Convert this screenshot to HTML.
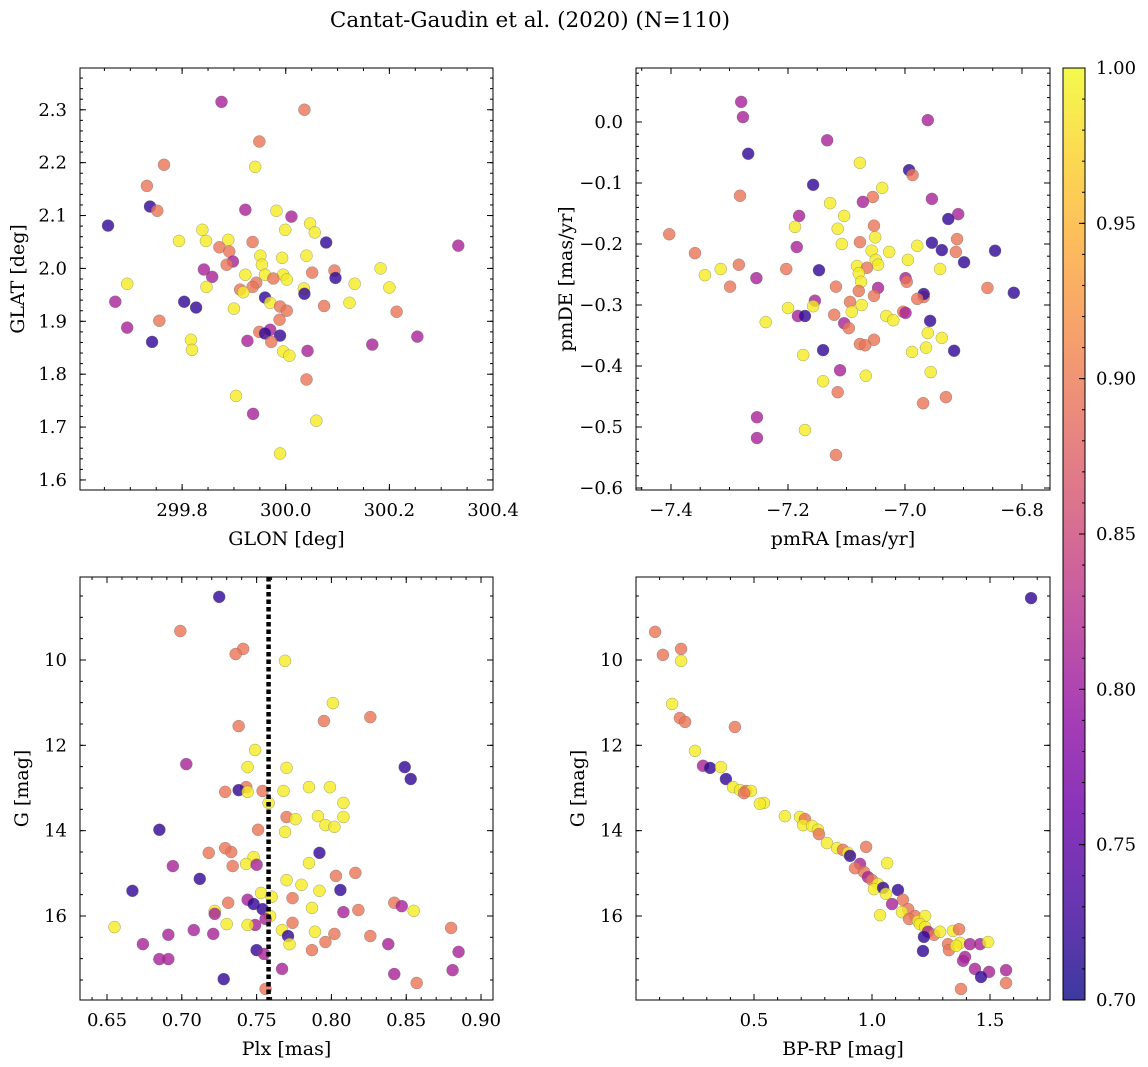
<!DOCTYPE html>
<html><head><meta charset="utf-8">
<style>
html,body{margin:0;padding:0;background:#fff;}
svg{display:block;font-family:"DejaVu Serif","Liberation Serif",serif;}
</style></head>
<body>
<svg id="fig" width="1148" height="1067" viewBox="0 0 1148 1067" xmlns="http://www.w3.org/2000/svg">
<defs>
<linearGradient id="plasma" x1="0" y1="1" x2="0" y2="0">
<stop offset="0" stop-color="#0d0887"/><stop offset="0.1" stop-color="#41049d"/><stop offset="0.2" stop-color="#6a00a8"/><stop offset="0.3" stop-color="#8f0da4"/><stop offset="0.4" stop-color="#b12a90"/><stop offset="0.5" stop-color="#cc4778"/><stop offset="0.6" stop-color="#e16462"/><stop offset="0.7" stop-color="#f2844b"/><stop offset="0.8" stop-color="#fca636"/><stop offset="0.9" stop-color="#fcce25"/><stop offset="1" stop-color="#f0f921"/>
</linearGradient>
</defs>
<text x="530" y="27" font-size="21.5" text-anchor="middle">Cantat-Gaudin et al. (2020) (N=110)</text>
</svg>
<script>
// ---- Panel 1 data: GLON / GLAT
const p1glon=[299.876,300.036,299.949,299.765,299.941,299.732,299.738,299.752,299.922,299.982,300.011,299.657,300.047,299.839,299.999,300.056,299.794,299.846,299.889,299.936,300.078,300.333,299.872,299.891,299.951,300.040,299.993,299.898,299.886,299.954,299.842,300.183,300.094,300.051,299.922,299.960,299.995,299.858,299.976,299.943,300.096,300.002,299.694,300.133,299.936,299.847,300.200,299.912,299.918,300.035,300.036,299.960,299.970,299.671,299.804,300.074,300.123,299.827,299.900,299.989,300.002,300.214,299.988,299.756,299.694,299.970,299.949,299.960,299.989,300.254,299.972,299.926,299.742,299.817,299.819,300.167,299.995,300.042,300.007,300.040,299.904,299.937,300.059,299.989];
const p1glat=[2.315,2.300,2.240,2.196,2.192,2.156,2.117,2.109,2.111,2.109,2.098,2.081,2.085,2.073,2.073,2.068,2.052,2.052,2.054,2.050,2.049,2.043,2.040,2.032,2.024,2.024,2.020,2.013,2.007,2.007,1.998,2.000,1.996,1.992,1.988,1.988,1.988,1.984,1.981,1.973,1.982,1.979,1.971,1.971,1.965,1.965,1.964,1.960,1.955,1.962,1.952,1.945,1.935,1.937,1.937,1.929,1.935,1.926,1.924,1.928,1.920,1.918,1.903,1.901,1.888,1.884,1.880,1.877,1.873,1.871,1.861,1.863,1.861,1.865,1.846,1.856,1.843,1.844,1.835,1.790,1.759,1.725,1.712,1.650];
const p1prob=[.81,.895,.895,.895,.99,.895,.72,.895,.81,.99,.81,.72,.99,.99,.99,.99,.99,.99,.99,.895,.72,.81,.895,.895,.99,.99,.99,.81,.895,.99,.81,.99,.895,.895,.99,.99,.99,.81,.895,.895,.72,.99,.99,.99,.895,.99,.99,.895,.99,.99,.72,.72,.99,.81,.72,.895,.99,.72,.99,.895,.895,.895,.895,.895,.81,.81,.895,.72,.72,.81,.895,.81,.72,.99,.99,.81,.99,.81,.99,.895,.99,.81,.99,.99];
// ---- Panel 2 data: pmRA / pmDE
const p2pmra=[-7.280,-7.277,-6.961,-7.268,-7.133,-7.077,-6.993,-6.987,-7.157,-7.039,-7.282,-7.055,-6.954,-7.072,-7.128,-6.909,-7.104,-7.181,-6.926,-7.188,-7.115,-7.053,-7.403,-7.051,-6.911,-7.077,-7.108,-7.185,-6.979,-6.954,-6.937,-6.846,-7.057,-7.027,-6.913,-7.359,-7.050,-6.995,-6.899,-7.284,-7.082,-7.046,-7.065,-7.147,-7.203,-7.315,-6.940,-7.079,-7.342,-7.254,-6.999,-6.997,-7.075,-7.118,-7.299,-6.859,-7.046,-7.079,-6.814,-6.968,-7.053,-6.968,-6.979,-7.094,-7.154,-7.074,-7.157,-7.200,-7.091,-7.003,-7.032,-6.999,-7.121,-7.183,-7.171,-7.020,-7.238,-6.957,-7.104,-7.096,-6.961,-7.053,-6.937,-7.077,-7.068,-7.140,-7.174,-6.964,-6.988,-6.916,-7.111,-6.956,-7.067,-7.140,-7.115,-6.930,-6.969,-7.253,-7.171,-7.253,-7.118];
const p2pmde=[0.033,0.008,0.003,-0.052,-0.030,-0.067,-0.079,-0.087,-0.103,-0.108,-0.121,-0.123,-0.126,-0.131,-0.133,-0.151,-0.154,-0.154,-0.159,-0.172,-0.175,-0.170,-0.184,-0.189,-0.192,-0.197,-0.200,-0.205,-0.203,-0.198,-0.210,-0.211,-0.211,-0.213,-0.213,-0.215,-0.226,-0.226,-0.230,-0.234,-0.236,-0.234,-0.239,-0.243,-0.241,-0.241,-0.241,-0.248,-0.251,-0.256,-0.256,-0.262,-0.262,-0.270,-0.270,-0.272,-0.272,-0.277,-0.280,-0.287,-0.285,-0.282,-0.290,-0.295,-0.293,-0.300,-0.302,-0.305,-0.311,-0.311,-0.318,-0.313,-0.316,-0.318,-0.318,-0.325,-0.328,-0.326,-0.330,-0.338,-0.346,-0.357,-0.354,-0.364,-0.366,-0.374,-0.382,-0.370,-0.377,-0.375,-0.407,-0.410,-0.416,-0.425,-0.443,-0.451,-0.461,-0.484,-0.505,-0.518,-0.546];
const p2prob=[.81,.81,.81,.72,.81,.99,.72,.895,.72,.99,.895,.895,.81,.81,.99,.81,.99,.81,.72,.99,.99,.895,.895,.99,.895,.895,.99,.81,.99,.72,.72,.72,.99,.99,.895,.895,.99,.99,.72,.895,.99,.99,.895,.72,.895,.99,.99,.99,.99,.81,.81,.895,.99,.895,.895,.895,.81,.895,.72,.895,.895,.72,.895,.895,.81,.99,.99,.99,.99,.895,.99,.81,.895,.81,.72,.99,.99,.72,.81,.895,.99,.895,.99,.895,.895,.72,.99,.99,.99,.72,.81,.99,.99,.99,.895,.895,.895,.81,.99,.81,.895];
// ---- Panel 3 data: Plx / G
const p3plx=[0.725,0.699,0.741,0.736,0.769,0.801,0.795,0.826,0.738,0.749,0.703,0.744,0.770,0.849,0.853,0.785,0.799,0.743,0.738,0.744,0.729,0.754,0.768,0.758,0.808,0.770,0.791,0.776,0.808,0.796,0.802,0.685,0.751,0.769,0.792,0.733,0.718,0.729,0.748,0.785,0.694,0.743,0.750,0.734,0.816,0.803,0.712,0.770,0.780,0.667,0.806,0.792,0.753,0.760,0.774,0.744,0.748,0.731,0.842,0.847,0.787,0.754,0.818,0.855,0.722,0.808,0.722,0.759,0.774,0.730,0.749,0.744,0.756,0.655,0.880,0.767,0.721,0.708,0.789,0.802,0.826,0.691,0.771,0.796,0.674,0.772,0.838,0.750,0.787,0.755,0.885,0.691,0.685,0.767,0.881,0.842,0.728,0.857,0.756];
const p3g=[8.52,9.32,9.74,9.86,10.02,11.01,11.43,11.34,11.55,12.11,12.44,12.51,12.53,12.51,12.79,12.98,12.98,12.98,13.05,13.09,13.09,13.07,13.07,13.35,13.35,13.68,13.66,13.73,13.68,13.87,13.91,13.98,13.98,14.03,14.52,14.50,14.52,14.41,14.62,14.76,14.83,14.78,14.80,14.83,14.99,15.06,15.13,15.16,15.27,15.41,15.39,15.41,15.46,15.55,15.58,15.62,15.72,15.69,15.69,15.77,15.81,15.84,15.86,15.88,15.88,15.91,15.95,16.00,16.16,16.19,16.21,16.21,16.07,16.26,16.28,16.33,16.42,16.33,16.37,16.42,16.47,16.44,16.47,16.61,16.66,16.66,16.66,16.80,16.80,16.89,16.84,17.01,17.01,17.24,17.27,17.36,17.48,17.57,17.71];
const p3prob=[.72,.895,.895,.895,.99,.99,.895,.895,.895,.99,.81,.99,.99,.72,.72,.99,.99,.895,.72,.99,.895,.895,.99,.99,.99,.895,.99,.99,.99,.99,.99,.72,.895,.99,.72,.895,.895,.895,.99,.99,.81,.99,.81,.895,.895,.895,.72,.99,.99,.72,.72,.99,.99,.99,.895,.81,.72,.895,.895,.81,.99,.72,.895,.99,.99,.81,.81,.99,.895,.99,.81,.99,.81,.99,.895,.99,.81,.81,.99,.895,.895,.81,.72,.895,.81,.99,.81,.72,.895,.81,.81,.81,.81,.81,.81,.81,.72,.895,.895];
const plxMedian=0.758;
// ---- Panel 4 data: BP-RP / G
const p4bprp=[1.674,0.081,0.114,0.191,0.191,0.153,0.186,0.208,0.419,0.250,0.284,0.314,0.360,0.381,0.411,0.441,0.466,0.487,0.458,0.542,0.525,0.631,0.695,0.716,0.708,0.746,0.771,0.775,0.809,0.852,0.877,0.898,0.907,0.975,0.949,0.928,1.064,0.966,0.983,1.000,1.025,1.008,1.047,1.110,1.059,1.131,1.085,1.153,1.127,1.034,1.182,1.157,1.195,1.225,1.203,1.225,1.237,1.263,1.220,1.288,1.343,1.369,1.322,1.373,1.415,1.458,1.492,1.326,1.356,1.216,1.394,1.386,1.436,1.496,1.568,1.462,1.568,1.377];
const p4g=[8.55,9.34,9.88,9.74,10.02,11.03,11.36,11.45,11.57,12.13,12.48,12.53,12.51,12.79,12.98,13.05,13.07,13.07,13.12,13.35,13.37,13.66,13.68,13.73,13.87,13.89,13.98,14.08,14.29,14.41,14.45,14.52,14.59,14.38,14.78,14.88,14.76,14.97,15.09,15.16,15.25,15.37,15.34,15.39,15.48,15.62,15.72,15.84,15.91,15.98,16.00,16.07,16.12,16.00,16.19,16.26,16.37,16.44,16.49,16.37,16.35,16.31,16.66,16.63,16.66,16.66,16.61,16.80,16.70,16.82,16.96,17.05,17.24,17.31,17.27,17.43,17.57,17.71];
const p4prob=[.72,.895,.895,.895,.99,.99,.895,.895,.895,.99,.81,.72,.99,.72,.99,.99,.895,.99,.895,.99,.99,.99,.99,.895,.99,.99,.99,.895,.99,.99,.895,.99,.72,.895,.81,.895,.99,.895,.81,.895,.99,.99,.72,.72,.99,.895,.81,.895,.99,.99,.895,.895,.99,.99,.99,.99,.81,.895,.72,.99,.99,.895,.895,.99,.81,.81,.99,.895,.99,.72,.81,.81,.81,.81,.81,.72,.895,.895];
// ---- Tick labels
const p1xticks=[299.8,300.0,300.2,300.4];
const p1yticks=[1.6,1.7,1.8,1.9,2.0,2.1,2.2,2.3];
const p2xticks=[-7.4,-7.2,-7.0,-6.8];
const p2yticks=[0.0,-0.1,-0.2,-0.3,-0.4,-0.5,-0.6];
const p3xticks=[0.65,0.70,0.75,0.80,0.85,0.90];
const gticks=[10,12,14,16];
const p4xticks=[0.5,1.0,1.5];
const cbticks=[0.70,0.75,0.80,0.85,0.90,0.95,1.00];

const NS='http://www.w3.org/2000/svg';
const svg=document.getElementById('fig');
function mk(tag,attrs,parent){const e=document.createElementNS(NS,tag);for(const k in attrs)e.setAttribute(k,attrs[k]);(parent||svg).appendChild(e);return e;}
const stops=[[0,'#0d0887'],[.1,'#41049d'],[.2,'#6a00a8'],[.3,'#8f0da4'],[.4,'#b12a90'],[.5,'#cc4778'],[.6,'#e16462'],[.7,'#f2844b'],[.8,'#fca636'],[.9,'#fcce25'],[1,'#f0f921']];
function hex(h){return [1,3,5].map(i=>parseInt(h.substr(i,2),16));}
function plasma(p){let t=Math.max(0,Math.min(1,(p-0.7)/0.3));for(let i=1;i<stops.length;i++){if(t<=stops[i][0]){const a=hex(stops[i-1][1]),b=hex(stops[i][1]);const f=(t-stops[i-1][0])/(stops[i][0]-stops[i-1][0]);return 'rgb('+a.map((v,j)=>Math.round(v+(b[j]-v)*f)).join(',')+')';}}return stops[10][1];}
function fmt(v,d){return v.toFixed(d).replace('-','\u2212');}

function panel(cfg){
  const g=mk('g',{});
  
  
  const X=v=>cfg.px0+(v-cfg.xd[0])/(cfg.xd[1]-cfg.xd[0])*(cfg.px1-cfg.px0);
  const Y=v=>cfg.py0+(v-cfg.yd[0])/(cfg.yd[1]-cfg.yd[0])*(cfg.py1-cfg.py0);
  for(let i=0;i<cfg.xs.length;i++){
    const c=mk('circle',{cx:X(cfg.xs[i]),cy:Y(cfg.ys[i]),r:6,fill:plasma(cfg.cs[i]),'fill-opacity':0.8,stroke:'#666','stroke-width':0.5,'stroke-opacity':0.6},g);
    
    
  }
  if(cfg.vline!==undefined){
    const l=mk('line',{x1:X(cfg.vline),x2:X(cfg.vline),y1:cfg.py0,y2:cfg.py1,stroke:'#000','stroke-width':4.5,'stroke-dasharray':'4.5,3'},g);
    
    
  }
  const fr=mk('rect',{x:cfg.px0,y:cfg.py0,width:cfg.px1-cfg.px0,height:cfg.py1-cfg.py0,fill:'none',stroke:'#000','stroke-width':1},g);
  
  
  const yl=Math.min(cfg.yd[0],cfg.yd[1]),yh=Math.max(cfg.yd[0],cfg.yd[1]);
  for(let v=Math.ceil(cfg.xd[0]/cfg.xm-1e-6)*cfg.xm;v<=cfg.xd[1]+1e-9;v+=cfg.xm){const x=X(v);mk('line',{x1:x,x2:x,y1:cfg.py1,y2:cfg.py1-3,stroke:'#000'},g);mk('line',{x1:x,x2:x,y1:cfg.py0,y2:cfg.py0+3,stroke:'#000'},g);}
  for(let v=Math.ceil(yl/cfg.ym-1e-6)*cfg.ym;v<=yh+1e-9;v+=cfg.ym){const y=Y(v);mk('line',{x1:cfg.px0,x2:cfg.px0+3,y1:y,y2:y,stroke:'#000'},g);mk('line',{x1:cfg.px1,x2:cfg.px1-3,y1:y,y2:y,stroke:'#000'},g);}
  cfg.xt.forEach(v=>{const x=X(v);mk('line',{x1:x,x2:x,y1:cfg.py1,y2:cfg.py1-6,stroke:'#000'},g);mk('line',{x1:x,x2:x,y1:cfg.py0,y2:cfg.py0+6,stroke:'#000'},g);
    const t=mk('text',{x:x,y:cfg.py1+26,'font-size':18,'text-anchor':'middle'},g);t.textContent=fmt(v,cfg.xdp);});
  cfg.yt.forEach(v=>{const y=Y(v);mk('line',{x1:cfg.px0,x2:cfg.px0+6,y1:y,y2:y,stroke:'#000'},g);mk('line',{x1:cfg.px1,x2:cfg.px1-6,y1:y,y2:y,stroke:'#000'},g);
    const t=mk('text',{x:cfg.px0-13,y:y+6,'font-size':18,'text-anchor':'end'},g);t.textContent=fmt(v,cfg.ydp);});
  const xl=mk('text',{x:(cfg.px0+cfg.px1)/2,y:cfg.py1+55,'font-size':19,'text-anchor':'middle'},g);xl.textContent=cfg.xlab;
  
  const ylx=cfg.px0-cfg.ylo,yc=(cfg.py0+cfg.py1)/2;
  const ylt=mk('text',{x:ylx,y:yc,'font-size':19,'text-anchor':'middle',transform:'rotate(-90 '+ylx+' '+yc+')'},g);ylt.textContent=cfg.ylab;
  
}
panel({name:'glon-glat-panel',px0:80,px1:493,py0:68,py1:490,xd:[299.6029,300.4],yd:[2.379,1.581],xs:p1glon,ys:p1glat,cs:p1prob,xt:p1xticks,yt:p1yticks,xm:0.05,ym:0.02,xdp:1,ydp:1,xlab:'GLON [deg]',ylab:'GLAT [deg]',ylo:56});
panel({name:'proper-motion-panel',px0:636,px1:1050,py0:68,py1:490,xd:[-7.4598,-6.7521],yd:[0.0885,-0.6033],xs:p2pmra,ys:p2pmde,cs:p2prob,xt:p2xticks,yt:p2yticks,xm:0.05,ym:0.02,xdp:1,ydp:1,xlab:'pmRA [mas/yr]',ylab:'pmDE [mas/yr]',ylo:64});
panel({name:'parallax-magnitude-panel',px0:80,px1:493,py0:577,py1:1000,xd:[0.63195,0.9080],yd:[8.055,17.969],xs:p3plx,ys:p3g,cs:p3prob,xt:p3xticks,yt:gticks,xm:0.01,ym:0.5,xdp:2,ydp:0,xlab:'Plx [mas]',ylab:'G [mag]',ylo:52,vline:plxMedian});
panel({name:'color-magnitude-panel',px0:636,px1:1050,py0:577,py1:1000,xd:[0.0,1.7542],yd:[8.055,17.969],xs:p4bprp,ys:p4g,cs:p4prob,xt:p4xticks,yt:gticks,xm:0.1,ym:0.5,xdp:1,ydp:0,xlab:'BP-RP [mag]',ylab:'G [mag]',ylo:52});

const cb=mk('g',{});


const cy0=68,cy1=1000,cx0=1063,cx1=1085;
mk('rect',{x:cx0,y:cy0,width:cx1-cx0,height:cy1-cy0,fill:'url(#plasma)','fill-opacity':0.8},cb);
mk('rect',{x:cx0,y:cy0,width:cx1-cx0,height:cy1-cy0,fill:'none',stroke:'#000'},cb);
const CY=v=>cy1-(v-0.7)/0.3*(cy1-cy0);
for(let v=0.70;v<=1.0001;v+=0.01){mk('line',{x1:cx1,x2:cx1-3,y1:CY(v),y2:CY(v),stroke:'#000'},cb);}
cbticks.forEach(v=>{const y=CY(v);mk('line',{x1:cx1,x2:cx1-6,y1:y,y2:y,stroke:'#000'},cb);
  const t=mk('text',{x:cx1+11,y:y+6,'font-size':18},cb);t.textContent=v.toFixed(2);
  });
</script>
</body></html>
